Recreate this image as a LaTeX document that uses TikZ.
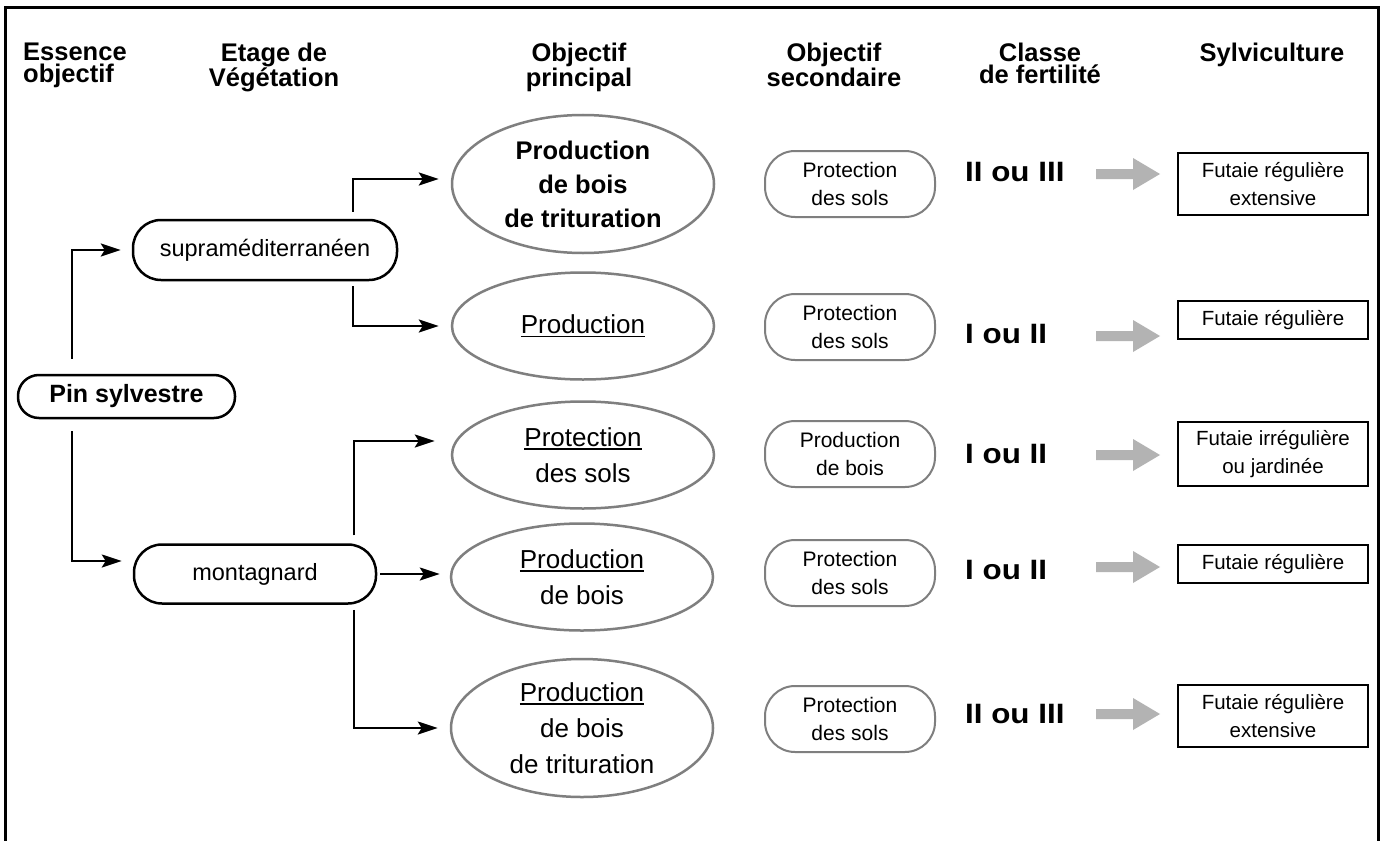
\documentclass[tikz,border=0pt]{standalone}
\usepackage{fontspec}
\setmainfont{Liberation Sans}
\newfontfamily\fertfont{Liberation Sans}[FakeStretch=1.12]
\usetikzlibrary{arrows.meta,shapes.geometric}
\definecolor{elgrey}{HTML}{7F7F7F}
\definecolor{arrgrey}{HTML}{B3B3B3}
\newcommand\myul[1]{\setbox0\hbox{#1}\rlap{\rule[-3.5pt]{\wd0}{1.4pt}}\box0}
\begin{document}
\begin{tikzpicture}[x=1pt,y=-1pt,
  hdr/.style={font={\bfseries\fontsize{25.5}{22}\selectfont}, inner sep=0pt, align=center, anchor=north},
  blackpill/.style={draw, line width=2.5pt, rounded corners=28pt, minimum height=60pt, inner sep=0pt, font={\fontsize{23.5}{30}\selectfont}},
  elli/.style={ellipse, draw=elgrey, line width=2.5pt, minimum width=262pt, minimum height=107pt, inner sep=0pt, align=center, font={\fontsize{26}{36}\selectfont}},
  secpill/.style={draw=elgrey, line width=2pt, rounded corners=30pt, minimum width=170pt, minimum height=66pt, inner sep=0pt, align=center, font={\fontsize{21}{28}\selectfont}},
  fert/.style={anchor=west, inner sep=0pt, font={\fertfont\bfseries\fontsize{28}{30}\selectfont}},
  sylv/.style={draw, line width=1.5pt, minimum width=190pt, inner sep=0pt, align=center, font={\fontsize{20.5}{28}\selectfont}},
  conn/.style={line width=2.2pt, -{Stealth[length=20pt,width=13pt,inset=4pt]}, shorten >=12pt}
]
\useasboundingbox (0,0) rectangle (1380,840);
\fill[white] (0,0) rectangle (1380,840);
% frame
\draw[line width=3pt] (5,850) -- (5,8) -- (1378,8) -- (1378,850);

% headers
\node[hdr, anchor=north west, align=left] (h1) at (23,43) {Essence\\objectif};
\node[hdr] (h2) at (274,43) {Etage de\\Végétation};
\node[hdr] (h3) at (579,43) {Objectif\\principal};
\node[hdr] (h4) at (834,43) {Objectif\\secondaire};
\node[hdr] (h5) at (1040,43) {Classe\\de fertilité};
\node[hdr] (h6) at (1272,43) {Sylviculture};

% column 1 and 2
\node[blackpill, minimum width=217pt, minimum height=43pt, rounded corners=21pt, font={\bfseries\fontsize{25}{30}\selectfont}] (pin) at (126.5,396.5) {Pin sylvestre};
\node[blackpill, minimum width=264pt] (sup) at (265,250) {supraméditerranéen};
\node[blackpill, minimum width=242pt, minimum height=59pt] (mont) at (255,574) {montagnard};

% ellipses
\node[elli, minimum height=138pt, font={\bfseries\fontsize{25.5}{34}\selectfont}] (e1) at (583,184) {Production\\de bois\\de trituration};
\node[elli] (e2) at (583,326) {\myul{Production}};
\node[elli] (e3) at (583,455) {\myul{Protection}\\des sols};
\node[elli] (e4) at (582,577) {\myul{Production}\\de bois};
\node[elli, minimum height=138pt] (e5) at (582,728) {\myul{Production}\\de bois\\de trituration};

% secondary objectives
\node[secpill] (o1) at (850,184) {Protection\\des sols};
\node[secpill] (o2) at (850,327) {Protection\\des sols};
\node[secpill] (o3) at (850,454) {Production\\de bois};
\node[secpill] (o4) at (850,573) {Protection\\des sols};
\node[secpill] (o5) at (850,719) {Protection\\des sols};

% fertility
\node[fert] (f1) at (965,172) {II ou III};
\node[fert] (f2) at (965,334) {I ou II};
\node[fert] (f3) at (965,454) {I ou II};
\node[fert] (f4) at (965,570) {I ou II};
\node[fert] (f5) at (965,714) {II ou III};

% sylviculture boxes
\node[sylv, minimum height=62pt] (s1) at (1273,184) {Futaie régulière\\extensive};
\node[sylv, minimum height=38pt] (s2) at (1273,320) {Futaie régulière};
\node[sylv, minimum height=64pt] (s3) at (1273,454) {Futaie irrégulière\\ou jardinée};
\node[sylv, minimum height=38pt] (s4) at (1273,564) {Futaie régulière};
\node[sylv, minimum height=62pt] (s5) at (1273,716) {Futaie régulière\\extensive};

% grey block arrows
\foreach \yy in {174,336,455,567,714}{
  \fill[arrgrey] (1096,\yy-5) -- (1133,\yy-5) -- (1133,\yy-16) -- (1160,\yy) -- (1133,\yy+16) -- (1133,\yy+5) -- (1096,\yy+5) -- cycle;
}

% connectors
\draw[conn, shorten >=11pt] ([xshift=55pt,yshift=15pt]pin.north west) |- (sup.west);
\draw[conn, shorten >=11pt] ([xshift=55pt,yshift=-12pt]pin.south west) |- ([yshift=13pt]mont.west);
\draw[conn] ([xshift=-45pt,yshift=7pt]sup.north east) |- ([yshift=5pt]e1.west);
\draw[conn] ([xshift=-45pt,yshift=-5pt]sup.south east) |- (e2.west);
\draw[conn, shorten >=16pt] ([xshift=-23pt,yshift=8pt]mont.north east) |- ([yshift=14pt]e3.west);
\draw[conn, shorten <=3pt, shorten >=10pt] (mont.east) -- (mont.east -| e4.west);
\draw[conn] ([xshift=-23pt,yshift=-5pt]mont.south east) |- (e5.west);
\end{tikzpicture}
\end{document}
